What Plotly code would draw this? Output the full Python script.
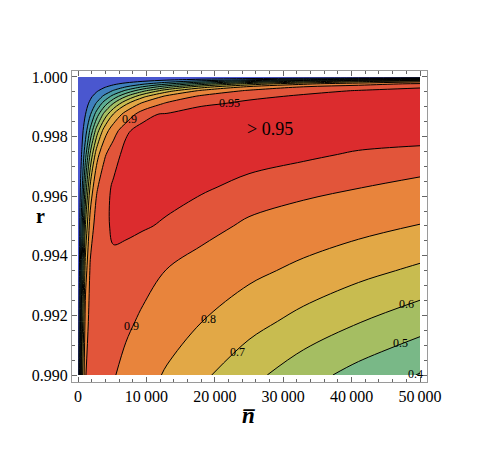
import plotly.graph_objects as go

# grid (n-bar across, r up)
n_bar = [0, 250, 600, 1100, 1800, 2700, 3800, 5200, 7000, 9500, 13000, 18000, 25000, 33000, 41000, 50000]
r_vals = [0.990, 0.9918, 0.9935, 0.995, 0.9963, 0.9974, 0.9982, 0.99875, 0.9991,
          0.99935, 0.99954, 0.99967, 0.99977, 0.99985, 0.99991, 0.99996, 1.0]

z_990 = [0, 0.224, 0.663, 0.897, 0.931, 0.928, 0.920, 0.905, 0.878, 0.840, 0.788, 0.720, 0.630, 0.540, 0.465, 0.395]
z_9918 = [0, 0.166, 0.546, 0.849, 0.935, 0.938, 0.935, 0.929, 0.914, 0.888, 0.852, 0.802, 0.736, 0.667, 0.605, 0.542]
z_9935 = [0, 0.122, 0.414, 0.758, 0.916, 0.942, 0.945, 0.943, 0.939, 0.926, 0.898, 0.869, 0.824, 0.776, 0.729, 0.681]
z_995 = [0, 0.090, 0.289, 0.612, 0.853, 0.939, 0.943, 0.955, 0.955, 0.953, 0.946, 0.925, 0.888, 0.860, 0.830, 0.796]
z_9963 = [0, 0.065, 0.188, 0.438, 0.723, 0.889, 0.945, 0.952, 0.957, 0.960, 0.961, 0.956, 0.938, 0.920, 0.902, 0.882]
z_9974 = [0, 0.046, 0.116, 0.271, 0.517, 0.754, 0.887, 0.945, 0.954, 0.961, 0.966, 0.970, 0.967, 0.958, 0.945, 0.939]
z_9982 = [0, 0.032, 0.076, 0.158, 0.323, 0.541, 0.740, 0.870, 0.948, 0.955, 0.964, 0.970, 0.976, 0.977, 0.974, 0.969]
z_99875 = [0, 0.022, 0.052, 0.100, 0.192, 0.341, 0.525, 0.709, 0.845, 0.945, 0.953, 0.962, 0.970, 0.977, 0.980, 0.980]
z_9991 = [0, 0.016, 0.037, 0.069, 0.121, 0.213, 0.345, 0.512, 0.687, 0.829, 0.917, 0.946, 0.955, 0.962, 0.968, 0.973]
z_99935 = [0, 0.011, 0.027, 0.049, 0.083, 0.134, 0.218, 0.339, 0.495, 0.676, 0.824, 0.916, 0.945, 0.953, 0.959, 0.964]
z_99954 = [0, 0.008, 0.019, 0.035, 0.057, 0.088, 0.133, 0.209, 0.317, 0.472, 0.660, 0.817, 0.913, 0.944, 0.951, 0.957]
z_99967 = [0, 0.006, 0.014, 0.025, 0.041, 0.062, 0.089, 0.130, 0.198, 0.305, 0.462, 0.655, 0.816, 0.901, 0.939, 0.947]
z_99977 = [0, 0.004, 0.010, 0.018, 0.029, 0.043, 0.061, 0.085, 0.120, 0.182, 0.285, 0.443, 0.635, 0.781, 0.864, 0.914]
z_99985 = [0, 0.003, 0.006, 0.011, 0.019, 0.028, 0.039, 0.054, 0.073, 0.103, 0.153, 0.248, 0.390, 0.547, 0.675, 0.775]
z_99991 = [0, 0.002, 0.004, 0.007, 0.011, 0.017, 0.024, 0.032, 0.044, 0.059, 0.083, 0.121, 0.190, 0.283, 0.382, 0.489]
z_99996 = [0, 0.001, 0.002, 0.003, 0.005, 0.008, 0.010, 0.014, 0.019, 0.026, 0.036, 0.050, 0.069, 0.094, 0.123, 0.158]
z_1000 = [0] * 16

z = [z_990, z_9918, z_9935, z_995, z_9963, z_9974, z_9982, z_99875, z_9991,
     z_99935, z_99954, z_99967, z_99977, z_99985, z_99991, z_99996, z_1000]

# band colours, lowest band first (<0.1 ... 0.9-0.95)
band_colors = ['#4a57cf', '#3f80bd', '#4a9ca6', '#5cad93', '#79b887',
               '#a5be62', '#c8bc50', '#e2a846', '#e8843c', '#e2553a']
top_color = '#dc2c2e'

x_ticks = [0, 10000, 20000, 30000, 40000, 50000]
x_ticktext = ['0', '10\u2009000', '20\u2009000', '30\u2009000', '40\u2009000', '50\u2009000']
y_ticks = [0.990, 0.992, 0.994, 0.996, 0.998, 1.000]
y_ticktext = ['0.990', '0.992', '0.994', '0.996', '0.998', '1.000']

labels = [('0.9', 7600, 0.99859), ('0.95', 22200, 0.99913), ('0.9', 7750, 0.99164),
          ('0.8', 19150, 0.99188), ('0.7', 23250, 0.99077), ('0.6', 48050, 0.99238),
          ('0.5', 47100, 0.99106), ('0.4', 49300, 0.99003)]

nb = len(band_colors)
cscale = [[i / (nb - 1), c] for i, c in enumerate(band_colors)]

fig = go.Figure()
fig.add_trace(go.Contour(
    x=n_bar, y=r_vals, z=z,
    contours=dict(start=0.1, end=0.9, size=0.1, coloring='fill'),
    colorscale=cscale, showscale=False,
    line=dict(color='black', width=1, smoothing=1),
    hoverinfo='skip'))
fig.add_trace(go.Contour(
    x=n_bar, y=r_vals, z=z,
    contours=dict(start=0.95, end=0.95, size=0.05, coloring='fill'),
    colorscale=[[0, 'rgba(0,0,0,0)'], [1, top_color]], showscale=False,
    line=dict(color='black', width=1, smoothing=1),
    hoverinfo='skip'))

serif = 'Liberation Serif, Times New Roman, serif'
for txt, xx, yy in labels:
    fig.add_annotation(x=xx, y=yy, text=txt, showarrow=False,
                       font=dict(family=serif, size=12, color='black'))
fig.add_annotation(x=28000, y=0.99824, text='> 0.95', showarrow=False,
                   font=dict(family=serif, size=18, color='black'))

fig.add_annotation(xref='paper', yref='paper', x=-0.09, y=0.534, text='<b>r</b>',
                   xanchor='center', yanchor='middle',
                   showarrow=False, font=dict(family=serif, size=20, color='black'))
fig.add_annotation(xref='paper', yref='paper', x=0.496, y=-0.108, text='<b><i>n\u0305</i></b>',
                   xanchor='center', yanchor='middle',
                   showarrow=False, font=dict(family=serif, size=23, color='black'))

axis_common = dict(showgrid=False, zeroline=False, showline=True, linecolor='#9a9a9a',
                   linewidth=1, mirror='allticks', ticks='inside', ticklen=5,
                   tickcolor='#666', tickfont=dict(family=serif, size=16, color='black'))
fig.update_xaxes(range=[-877, 51023], tickvals=x_ticks, ticktext=x_ticktext,
                 minor=dict(tick0=0, dtick=2000, ticks='inside', ticklen=3, tickcolor='#666'),
                 **axis_common)
fig.update_yaxes(range=[0.989765, 1.000201], tickvals=y_ticks, ticktext=y_ticktext,
                 minor=dict(tick0=0.99, dtick=0.0005, ticks='inside', ticklen=3, tickcolor='#666'),
                 **axis_common)

# page body adds 8px, so the figure is 8px smaller on each side
fig.update_layout(width=490, height=446, margin=dict(l=64, r=71, t=63, b=72),
                  paper_bgcolor='white', plot_bgcolor='white', showlegend=False)

fig.write_html("out.html")
